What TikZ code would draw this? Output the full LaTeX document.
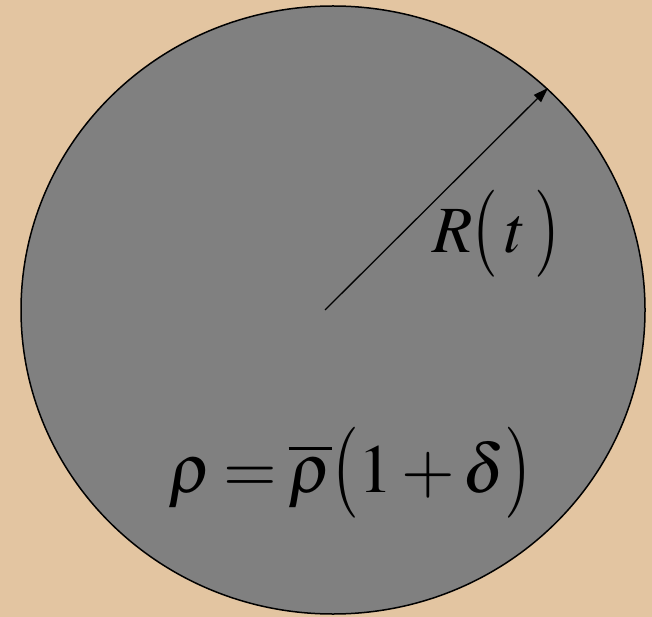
\documentclass[tikz,border=0pt]{standalone}
\usepackage{mathptmx}
\usepackage{graphicx}
\usetikzlibrary{shapes.geometric, arrows.meta, positioning}
\definecolor{sandbg}{RGB}{227,197,161}
\definecolor{ballgray}{RGB}{128,128,128}
\newcommand{\tallopen}{\mathopen{\raisebox{-0.05em}{\scalebox{1}[1.32]{$($}}}}
\newcommand{\tallclose}{\mathclose{\raisebox{-0.05em}{\scalebox{1}[1.32]{$)$}}}}

\begin{document}
\begin{tikzpicture}[
    x=1pt, y=-1pt,
    ball/.style={ellipse, draw=black, fill=ballgray, line width=1.5pt, minimum width=624pt, minimum height=608pt, inner sep=0pt},
    eqn/.style={inner sep=0pt},
    arrow/.style={-{Triangle[length=15pt, width=10pt]}, line width=1.3pt}
]
% Background
\fill[sandbg] (0,0) rectangle (652,617);

% Nodes
\node[ball] (ball) at (333,310) {};
\coordinate (centre) at (325,310);
\coordinate (rim) at (548,88);
\node[eqn, anchor=base, font=\fontsize{66}{80}\selectfont] (radius) at (496,252) {$R\tallopen\,t\,\tallclose$};
\node[eqn, anchor=base, font=\fontsize{69}{84}\selectfont] (density) at (350,492)
  {$\medmuskip=2mu \thickmuskip=3mu \rho=\overline{\rho}\tallopen 1+\delta\tallclose$};

% Paths
\draw[arrow] (centre) -- (rim);

\end{tikzpicture}
\end{document}
